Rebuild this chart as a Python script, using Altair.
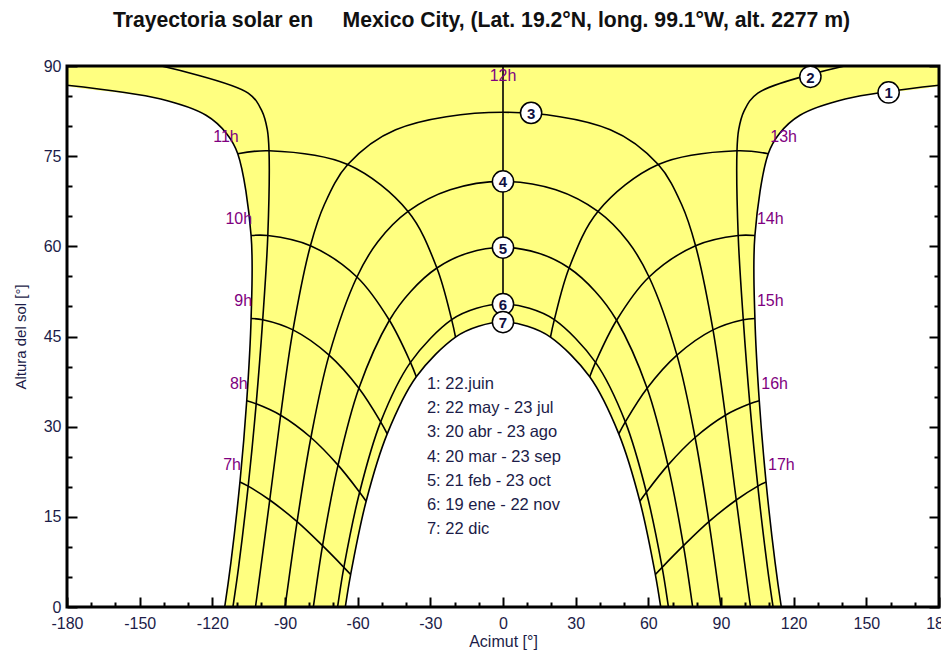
import altair as alt
import pandas as pd

# ---------------- data -----------------------------------------
TITLE = "Trayectoria solar en\u00a0\u00a0\u00a0\u00a0\u00a0Mexico City, (Lat. 19.2°N, long. 99.1°W, alt. 2277 m)"

az_domain = [-180, 180]
alt_domain = [0, 90]
x_major = [-180, -150, -120, -90, -60, -30, 0, 30, 60, 90, 120, 150, 180]
x_minor = [-170, -160, -140, -130, -110, -100, -80, -70, -50, -40, -20, -10,
           10, 20, 40, 50, 70, 80, 100, 110, 130, 140, 160, 170]
y_major = [0, 15, 30, 45, 60, 75, 90]
y_minor = [5, 10, 20, 25, 35, 40, 50, 55, 65, 70, 80, 85]

# sun paths: solar time [h], azimuth [deg, 0 = south], altitude [deg]
t1 = [5, 5.42, 6, 7, 8, 9, 10, 11, 11.25, 11.5, 11.75, 12, 12, 12.25, 12.5, 12.75, 13, 14, 15, 16, 17, 18, 18.58, 19]
az1 = [-117.1, -114.9, -112.3, -108.6, -105.8, -104.0, -104.0, -109.5, -114.0, -122.6, -141.3, -180,
       180, 141.3, 122.6, 114.0, 109.5, 104.0, 104.0, 105.8, 108.6, 112.3, 114.9, 117.1]
alt1 = [-5.4, 0, 7.5, 20.8, 34.3, 48.0, 61.8, 75.4, 78.7, 81.8, 84.5, 86.8,
        86.8, 84.5, 81.8, 78.7, 75.4, 61.8, 48.0, 34.3, 20.8, 7.5, 0, -5.4]

t2 = [5, 5.51, 6, 7, 8, 9, 10, 11, 11.25, 11.5, 11.75, 11.85, 12.15, 12.25, 12.5, 12.75, 13, 14, 15, 16, 17, 18, 18.49, 19]
az2 = [-114.1, -111.5, -109.2, -105.2, -101.9, -99.2, -97.1, -96.6, -97.3, -99.5, -105.2, -141.0,
       141.0, 105.2, 99.5, 97.3, 96.6, 97.1, 99.2, 101.9, 105.2, 109.2, 111.5, 114.1]
alt2 = [-6.7, 0, 6.5, 20.1, 33.8, 47.8, 61.8, 75.9, 79.4, 82.5, 85.5, 90.0,
        90.0, 85.5, 82.5, 79.4, 75.9, 61.8, 47.8, 33.8, 20.1, 6.5, 0, -6.7]

t3 = [5, 5.73, 6, 7, 8, 9, 10, 10.5, 11, 11.5, 12, 12.5, 13, 13.5, 14, 15, 16, 17, 18, 18.27, 19]
az3 = [-106.0, -102.2, -100.9, -96.3, -91.8, -86.7, -79.5, -73.7, -64.1, -44.3, 0,
       44.3, 64.1, 73.7, 79.5, 86.7, 91.8, 96.3, 100.9, 102.2, 106.0]
alt3 = [-10.0, 0, 3.8, 17.8, 31.9, 46.1, 60.1, 67.0, 73.6, 79.4, 82.3,
        79.4, 73.6, 67.0, 60.1, 46.1, 31.9, 17.8, 3.8, 0, -10.0]

t4 = [5, 6, 7, 8, 9, 10, 10.5, 11, 11.5, 12, 12.5, 13, 13.5, 14, 15, 16, 17, 18, 19]
az4 = [-95.0, -90.0, -85.0, -79.3, -71.8, -60.3, -51.6, -39.2, -21.8, 0,
       21.8, 39.2, 51.6, 60.3, 71.8, 79.3, 85.0, 90.0, 95.0]
alt4 = [-14.2, 0, 14.2, 28.2, 41.9, 54.9, 60.8, 65.8, 69.4, 70.8,
        69.4, 65.8, 60.8, 54.9, 41.9, 28.2, 14.2, 0, -14.2]

t5 = [6, 6.26, 7, 8, 9, 10, 10.5, 11, 11.5, 12, 12.5, 13, 13.5, 14, 15, 16, 17, 17.74, 18]
az5 = [-79.6, -78.3, -74.5, -68.1, -59.5, -46.9, -38.1, -27.3, -14.4, 0,
       14.4, 27.3, 38.1, 46.9, 59.5, 68.1, 74.5, 78.3, 79.6]
alt5 = [-3.6, 0, 10.2, 23.6, 36.4, 47.7, 52.5, 56.4, 58.9, 59.8,
        58.9, 56.4, 52.5, 47.7, 36.4, 23.6, 10.2, 0, -3.6]

t6 = [6, 6.5, 7, 8, 9, 10, 11, 11.5, 12, 12.5, 13, 14, 15, 16, 17, 17.5, 18]
az6 = [-70.7, -68.3, -65.7, -59.2, -50.5, -38.2, -21.2, -10.9, 0,
       10.9, 21.2, 38.2, 50.5, 59.2, 65.7, 68.3, 70.7]
alt6 = [-6.6, 0, 6.6, 19.1, 30.8, 40.7, 47.8, 49.7, 50.4,
        49.7, 47.8, 40.7, 30.8, 19.1, 6.6, 0, -6.6]

t7 = [6, 6.58, 7, 8, 9, 10, 11, 11.5, 12, 12.5, 13, 14, 15, 16, 17, 17.42, 18]
az7 = [-67.7, -65.1, -62.9, -56.5, -47.8, -35.8, -19.6, -10.1, 0,
       10.1, 19.6, 35.8, 47.8, 56.5, 62.9, 65.1, 67.7]
alt7 = [-7.5, 0, 5.4, 17.6, 28.8, 38.3, 44.9, 46.7, 47.4,
        46.7, 44.9, 38.3, 28.8, 17.6, 5.4, 0, -7.5]

zenith_az, zenith_alt = 0, 90

marker_lbl = ["1", "2", "3", "4", "5", "6", "7"]
marker_az = [159.2, 126.9, 11.6, 0, 0, 0, 0]
marker_alt = [85.6, 88.2, 82.2, 70.8, 59.8, 50.4, 47.4]

legend_lines = ["1: 22.juin", "2: 22 may - 23 jul", "3: 20 abr - 23 ago",
                "4: 20 mar - 23 sep", "5: 21 feb - 23 oct", "6: 19 ene - 22 nov",
                "7: 22 dic"]
legend_az, legend_alt = -31.4, 37.1

# ---------------- tables -----------------
rows = []
for d, ts, azs, alts in [(1, t1, az1, alt1), (2, t2, az2, alt2), (3, t3, az3, alt3),
                         (4, t4, az4, alt4), (5, t5, az5, alt5), (6, t6, az6, alt6),
                         (7, t7, az7, alt7)]:
    for t, a, h in zip(ts, azs, alts):
        seg = str(d)
        if d in (1, 2):
            seg += "am" if a < 0 else "pm"
        rows.append({"date": d, "seg": seg, "t": t, "az": a, "alt": h})
paths = pd.DataFrame(rows)

whole = (paths.t == paths.t.round()) & (paths.t >= 7) & (paths.t <= 17) & (paths.az.abs() < 180)
hl = paths[whole].copy()
hl["hour"] = hl.t.astype(int)
hl["ord"] = hl.date
hours = pd.concat([hl[["hour", "ord", "az", "alt"]],
                   pd.DataFrame({"hour": [12], "ord": [0], "az": [zenith_az], "alt": [zenith_alt]})],
                  ignore_index=True)

# yellow region: between the 22 Dec path and the 22 Jun path (+ band above the June noon point)
d7 = paths[paths.date == 7].sort_values("t")
d1pm = paths[paths.seg == "1pm"].sort_values("t", ascending=False)
d1am = paths[paths.seg == "1am"].sort_values("t", ascending=False)
poly = pd.concat([d7[["az", "alt"]], d1pm[["az", "alt"]], d1am[["az", "alt"]]], ignore_index=True)
poly["i"] = range(len(poly))
june_noon = paths[(paths.date == 1) & (paths.t == 12)].alt.iloc[0]
band = pd.DataFrame({"x0": [az_domain[0]], "x1": [az_domain[1]],
                     "y0": [june_noon], "y1": [alt_domain[1]]})

d1 = paths[(paths.date == 1) & whole].copy()
d1["lbl"] = d1.t.astype(int).astype(str) + "h"
left_lbl = d1[d1.t < 12]
right_lbl = d1[d1.t > 12]
noon_lbl = pd.DataFrame({"az": [zenith_az], "alt": [zenith_alt], "lbl": ["12h"]})

markers = pd.DataFrame({"lbl": marker_lbl, "az": marker_az, "alt": marker_alt})
legend_df = pd.DataFrame({"az": [legend_az], "alt": [legend_alt]})
frame_df = pd.DataFrame({"x0": [az_domain[0]], "x1": [az_domain[1]],
                         "y0": [alt_domain[0]], "y1": [alt_domain[1]]})

# ---------------- styling -----------------
W, H = 872, 541
FONT = "Liberation Sans"
INK = "#1c1c48"
HOURC = "#800080"
YELLOW = "#FFFF80"

xs = alt.Scale(domain=az_domain, nice=False, zero=False)
ys = alt.Scale(domain=alt_domain, nice=False, zero=False)


def tick_axis(orient, values, size, offset):
    return alt.Axis(orient=orient, offset=offset, values=values, ticks=True, tickSize=size,
                    tickWidth=2, tickColor="black", labels=False, domain=False, grid=False,
                    title="", zindex=2)


main_x = alt.Axis(orient="bottom", values=x_major, ticks=False, tickSize=0, domain=False, grid=False,
                  labelFont=FONT, labelFontSize=16, labelColor=INK, labelPadding=8,
                  labelFlush=False, labelOverlap=False, labelExpr="'' + datum.value",
                  title="Acimut [°]", titleFont=FONT, titleFontSize=16, titleFontWeight="normal",
                  titleColor=INK, titleX=W / 2, titleY=39, titleBaseline="alphabetic",
                  titleAlign="center", zindex=2)
main_y = alt.Axis(orient="left", values=y_major, ticks=False, tickSize=0, domain=False, grid=False,
                  labelFont=FONT, labelFontSize=16, labelColor=INK, labelPadding=6,
                  labelFlush=False, labelOverlap=False,
                  title="Altura del sol [°]", titleFont=FONT, titleFontSize=15,
                  titleFontWeight="normal", titleColor=INK, titleX=-42, titleY=H / 2,
                  titleBaseline="alphabetic", titleAlign="center", titleAngle=270, zindex=2)

band_layer = alt.Chart(band).mark_rect(color=YELLOW).encode(
    x=alt.X("x0:Q", scale=xs, axis=main_x), x2="x1:Q",
    y=alt.Y("y0:Q", scale=ys, axis=main_y), y2="y1:Q")

fill = alt.Chart(poly).mark_line(interpolate="catmull-rom", fill=YELLOW, stroke="transparent",
                                 clip=True).encode(
    x=alt.X("az:Q", scale=xs, axis=None),
    y=alt.Y("alt:Q", scale=ys, axis=None),
    order=alt.Order("i:Q"))

hourlines = alt.Chart(hours).mark_line(interpolate="catmull-rom", color="black", strokeWidth=1.6,
                                       clip=True).encode(
    x=alt.X("az:Q", scale=xs, axis=tick_axis("top", x_minor, 5, -H)),
    y=alt.Y("alt:Q", scale=ys, axis=tick_axis("right", y_minor, 5, -W)),
    detail="hour:N", order=alt.Order("ord:Q"))

curves = alt.Chart(paths).mark_line(interpolate="catmull-rom", color="black", strokeWidth=1.6,
                                    clip=True).encode(
    x=alt.X("az:Q", scale=xs, axis=tick_axis("top", x_major, 10, -H)),
    y=alt.Y("alt:Q", scale=ys, axis=tick_axis("right", y_major, 10, -W)),
    detail="seg:N", order=alt.Order("t:Q"))

frame = alt.Chart(frame_df).mark_rect(filled=False, stroke="black", strokeWidth=3).encode(
    x=alt.X("x0:Q", scale=xs, axis=None), x2="x1:Q",
    y=alt.Y("y0:Q", scale=ys, axis=None), y2="y1:Q")

circles = alt.Chart(markers).mark_point(shape="circle", filled=True, fill="white", stroke="black",
                                        strokeWidth=1.5, size=450, opacity=1).encode(
    x=alt.X("az:Q", scale=xs, axis=None),
    y=alt.Y("alt:Q", scale=ys, axis=tick_axis("left", y_major, 10, -W)))

ctext = alt.Chart(markers).mark_text(font=FONT, fontSize=15, fontWeight="bold", color="#101040",
                                     baseline="middle", dy=1).encode(
    x=alt.X("az:Q", scale=xs, axis=None),
    y=alt.Y("alt:Q", scale=ys, axis=tick_axis("left", y_minor, 5, -W)),
    text="lbl:N")

hl_left = alt.Chart(left_lbl).mark_text(align="right", baseline="middle", dx=1, dy=-17, font=FONT,
                                        fontSize=16, color=HOURC).encode(
    x=alt.X("az:Q", scale=xs, axis=None), y=alt.Y("alt:Q", scale=ys, axis=None), text="lbl:N")
hl_right = alt.Chart(right_lbl).mark_text(align="left", baseline="middle", dx=2, dy=-17, font=FONT,
                                          fontSize=16, color=HOURC).encode(
    x=alt.X("az:Q", scale=xs, axis=None), y=alt.Y("alt:Q", scale=ys, axis=None), text="lbl:N")
hl_noon = alt.Chart(noon_lbl).mark_text(align="center", baseline="middle", dy=10, font=FONT,
                                        fontSize=16, color=HOURC).encode(
    x=alt.X("az:Q", scale=xs, axis=None), y=alt.Y("alt:Q", scale=ys, axis=None), text="lbl:N")

legend = alt.Chart(legend_df).mark_text(align="left", baseline="middle", lineHeight=24.2, font=FONT,
                                        fontSize=16.5, color=INK).encode(
    x=alt.X("az:Q", scale=xs, axis=None), y=alt.Y("alt:Q", scale=ys, axis=None),
    text=alt.value(legend_lines))

chart = alt.layer(band_layer, fill, hourlines, curves, frame, circles, ctext, hl_left, hl_right,
                  hl_noon, legend
                  ).resolve_axis(x="independent", y="independent").properties(
    width=W, height=H,
    title=alt.TitleParams(text=TITLE, font=FONT, fontSize=21.2, fontWeight="bold", color="#111111",
                          anchor="middle", frame="group", dx=-21.5, offset=9.5, baseline="alphabetic"),
    padding={"left": 59, "top": 58, "right": 2, "bottom": 43},
    autosize=alt.AutoSizeParams(type="none"),
    background="white",
).configure_view(stroke="transparent")

chart.save("out.html", embed_options={"renderer": "svg", "actions": False})
